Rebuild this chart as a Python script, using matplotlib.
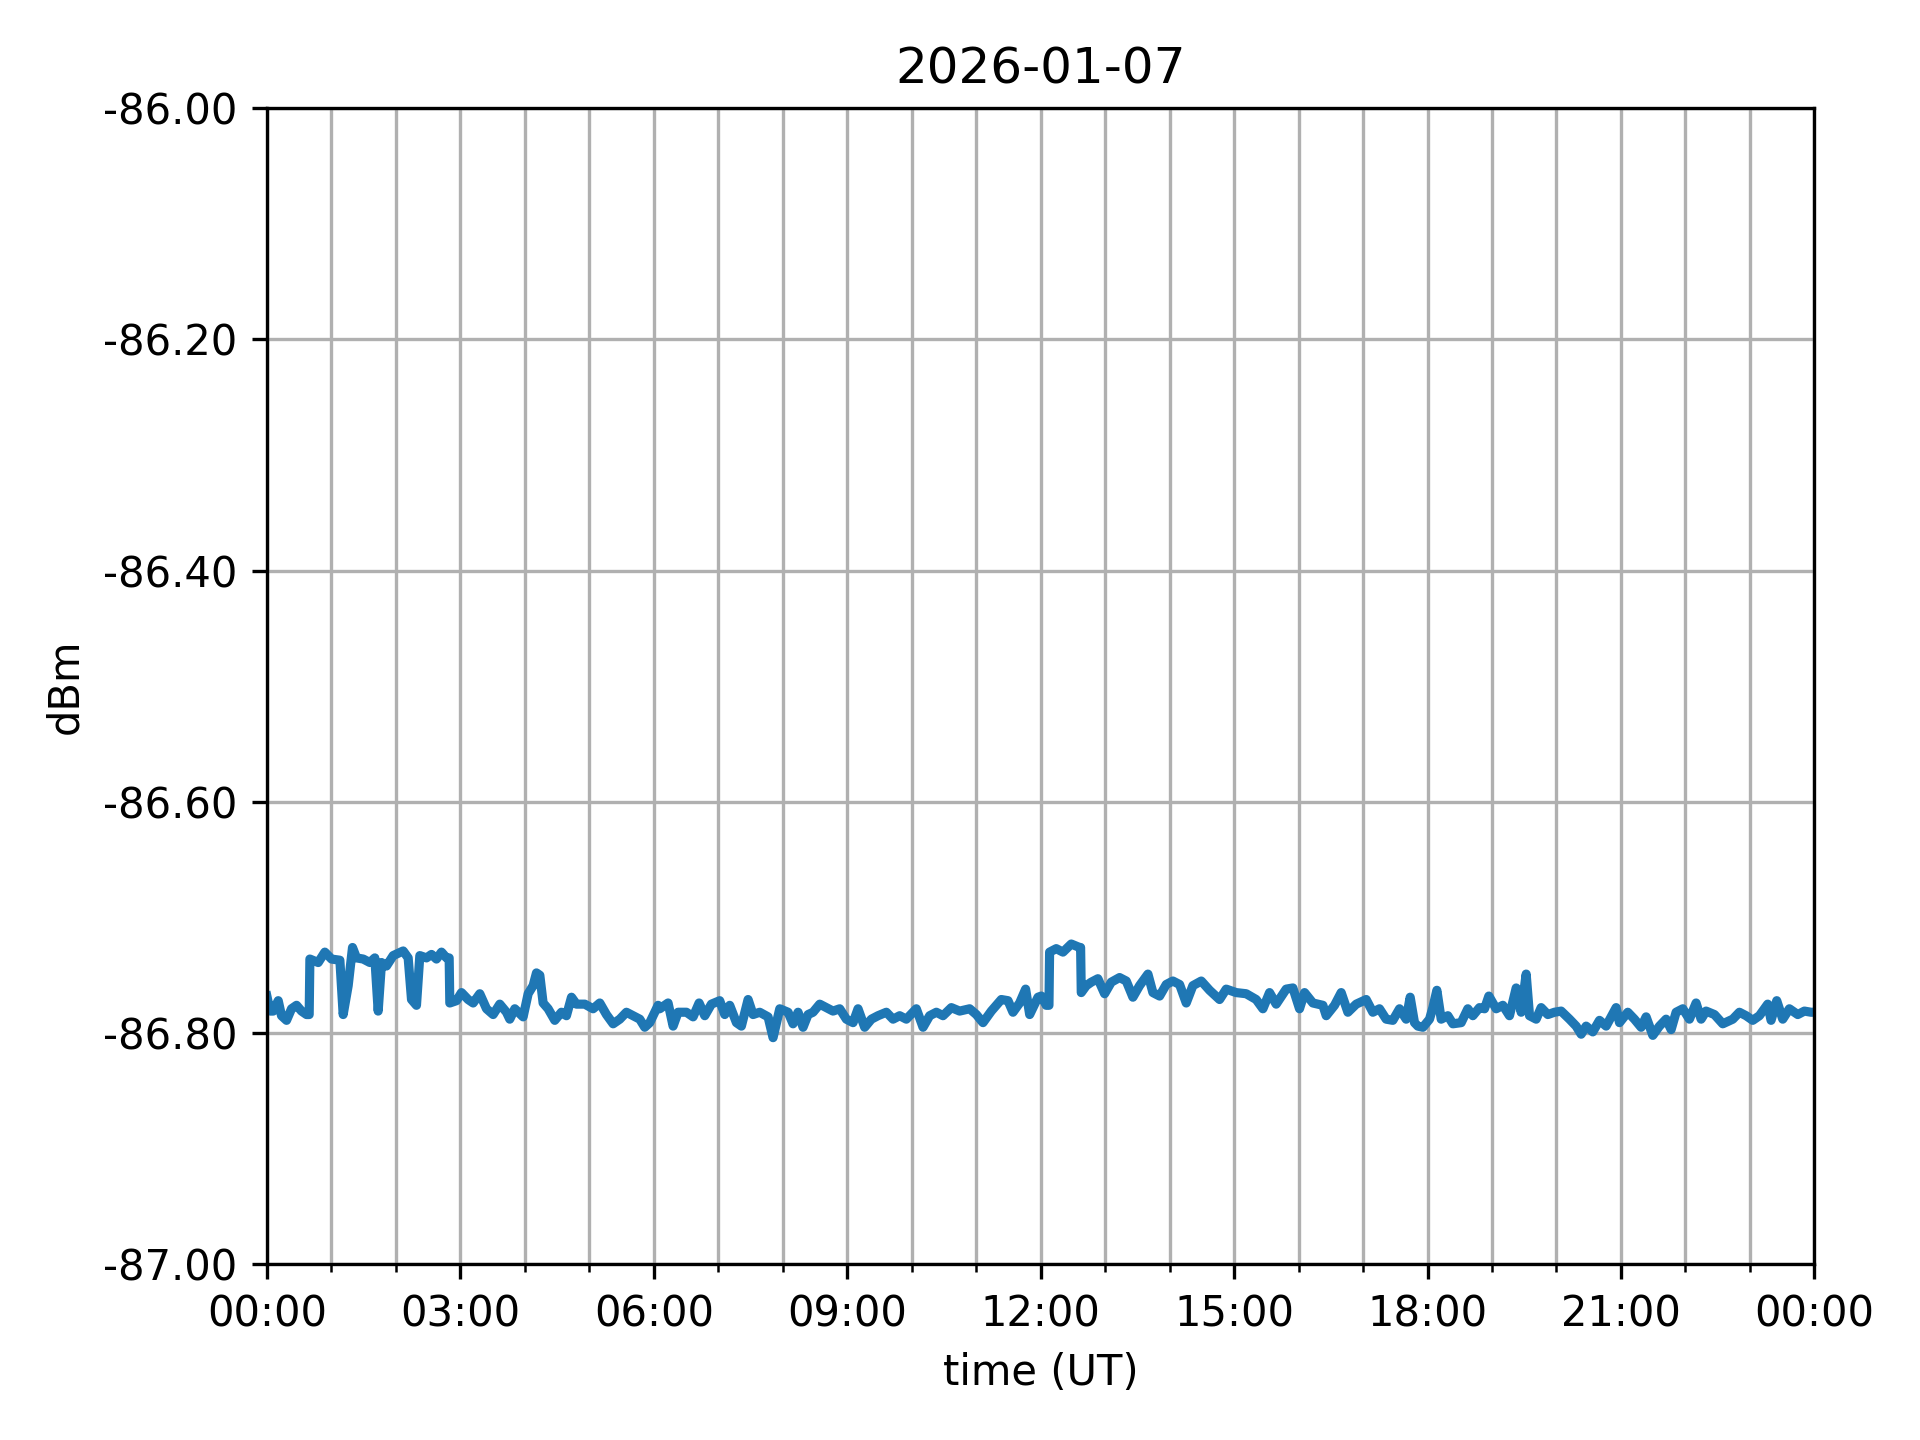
import numpy as np
import pandas as pd
import matplotlib
matplotlib.use('Agg')
import matplotlib.pyplot as plt
import matplotlib.dates as mdates
from matplotlib.ticker import FormatStrFormatter

day = '2026-01-07'

# hours since 00:00 UT
hours = [
    0.000, 0.050, 0.098, 0.176, 0.227, 0.305, 0.382, 0.460, 0.537, 0.615,
    0.656, 0.667, 0.796, 0.899, 1.003, 1.132, 1.183, 1.261, 1.328, 1.390,
    1.494, 1.597, 1.674, 1.726, 1.778, 1.855, 1.959, 2.114, 2.191, 2.243,
    2.320, 2.372, 2.475, 2.553, 2.630, 2.708, 2.786, 2.827, 2.837, 2.941,
    3.018, 3.121, 3.199, 3.302, 3.406, 3.509, 3.612, 3.716, 3.767, 3.845,
    3.974, 4.052, 4.129, 4.181, 4.233, 4.284, 4.362, 4.465, 4.568, 4.646,
    4.724, 4.801, 4.930, 5.059, 5.163, 5.266, 5.370, 5.473, 5.576, 5.680,
    5.783, 5.860, 5.938, 6.067,
    6.093, 6.222, 6.300, 6.377, 6.507, 6.610, 6.703, 6.791, 6.894, 7.023,
    7.101, 7.178, 7.282, 7.359, 7.463, 7.540, 7.643, 7.773, 7.850, 7.954,
    8.083, 8.160, 8.238, 8.315, 8.393, 8.470, 8.574, 8.677, 8.780, 8.884,
    8.987, 9.091, 9.168, 9.271, 9.375, 9.478, 9.607, 9.711, 9.814, 9.917,
    10.072, 10.176, 10.279, 10.383, 10.486, 10.615, 10.744, 10.899, 11.003, 11.106,
    11.235, 11.390, 11.494, 11.571, 11.674, 11.767, 11.830, 11.959,
    12.010, 12.087, 12.129, 12.139, 12.242, 12.346, 12.475, 12.604, 12.620, 12.630,
    12.708, 12.785, 12.888, 12.992, 13.095, 13.224, 13.328, 13.431, 13.534, 13.664,
    13.741, 13.845, 13.948, 14.051, 14.155, 14.258, 14.361, 14.491, 14.620, 14.775,
    14.878, 15.033, 15.188, 15.343, 15.447, 15.550, 15.653, 15.808, 15.912, 16.015,
    16.093, 16.222, 16.377, 16.429, 16.558, 16.661, 16.765, 16.894, 17.049, 17.152,
    17.255, 17.359, 17.462, 17.566, 17.669, 17.731, 17.798, 17.850,
    17.928, 18.031, 18.083, 18.145, 18.212, 18.315, 18.393, 18.522, 18.625, 18.703,
    18.806, 18.884, 18.951, 19.065, 19.168, 19.271, 19.375, 19.452, 19.530, 19.582,
    19.685, 19.762, 19.866, 19.969, 20.072, 20.202, 20.305, 20.383, 20.460, 20.563,
    20.667, 20.770, 20.925, 20.977, 21.106, 21.209, 21.313, 21.390, 21.494, 21.597,
    21.700, 21.778, 21.855, 21.959, 22.062, 22.165, 22.243, 22.320, 22.450, 22.579,
    22.734, 22.837, 22.941, 23.044, 23.147, 23.276, 23.328, 23.416, 23.509, 23.612,
    23.742, 23.845, 23.948, 24.000,
]

dbm = [
    -86.768, -86.781, -86.781, -86.772, -86.785, -86.789, -86.779, -86.776, -86.781, -86.784,
    -86.784, -86.736, -86.739, -86.730, -86.736, -86.737, -86.784, -86.759, -86.726, -86.735,
    -86.736, -86.739, -86.735, -86.781, -86.739, -86.742, -86.733, -86.729, -86.735, -86.771,
    -86.776, -86.733, -86.735, -86.732, -86.736, -86.730, -86.735, -86.735, -86.774, -86.772,
    -86.765, -86.771, -86.774, -86.766, -86.779, -86.784, -86.775, -86.782, -86.788, -86.779,
    -86.786, -86.766, -86.759, -86.748, -86.750, -86.774, -86.779, -86.789, -86.782, -86.785,
    -86.769, -86.775, -86.775, -86.779, -86.774, -86.784, -86.792, -86.788, -86.782, -86.785,
    -86.788, -86.795, -86.791, -86.776,
    -86.779, -86.774, -86.794, -86.782, -86.782, -86.786, -86.774, -86.785, -86.775, -86.772,
    -86.784, -86.776, -86.791, -86.794, -86.771, -86.784, -86.782, -86.786, -86.804, -86.779,
    -86.782, -86.792, -86.782, -86.795, -86.784, -86.782, -86.775, -86.778, -86.781, -86.779,
    -86.788, -86.791, -86.779, -86.795, -86.788, -86.785, -86.782, -86.788, -86.785, -86.788,
    -86.779, -86.795, -86.785, -86.782, -86.785, -86.778, -86.781, -86.779, -86.784, -86.791,
    -86.781, -86.771, -86.772, -86.782, -86.774, -86.762, -86.784, -86.769,
    -86.768, -86.776, -86.776, -86.730, -86.727, -86.730, -86.723, -86.726, -86.726, -86.765,
    -86.759, -86.756, -86.753, -86.766, -86.756, -86.752, -86.755, -86.769, -86.759, -86.749,
    -86.765, -86.768, -86.758, -86.755, -86.758, -86.774, -86.759, -86.755, -86.763, -86.771,
    -86.762, -86.765, -86.766, -86.771, -86.779, -86.765, -86.775, -86.762, -86.761, -86.779,
    -86.765, -86.774, -86.776, -86.785, -86.776, -86.765, -86.782, -86.775, -86.771, -86.782,
    -86.779, -86.788, -86.789, -86.779, -86.788, -86.769, -86.791, -86.794,
    -86.795, -86.788, -86.778, -86.763, -86.788, -86.785, -86.792, -86.791, -86.779, -86.785,
    -86.778, -86.779, -86.768, -86.779, -86.776, -86.785, -86.761, -86.782, -86.749, -86.785,
    -86.788, -86.778, -86.784, -86.782, -86.781, -86.788, -86.794, -86.801, -86.794, -86.799,
    -86.789, -86.794, -86.778, -86.791, -86.782, -86.788, -86.795, -86.786, -86.802, -86.794,
    -86.788, -86.797, -86.782, -86.779, -86.788, -86.774, -86.788, -86.781, -86.784, -86.792,
    -86.788, -86.782, -86.785, -86.789, -86.785, -86.775, -86.789, -86.772, -86.788, -86.779,
    -86.784, -86.781, -86.782, -86.782,
]

t0 = pd.Timestamp(day)
times = t0 + pd.to_timedelta(np.array(hours), unit='h')

fig, ax = plt.subplots(figsize=(6.4, 4.8), dpi=300)
fig.subplots_adjust(left=0.139, right=0.945, top=0.925, bottom=0.122)

ax.plot(times, dbm, color='#1f77b4', linewidth=2.2)

ax.set_xlim(t0, t0 + pd.Timedelta(days=1))
ax.set_ylim(-87.0, -86.0)
ax.set_yticks(np.arange(-87.0, -85.99, 0.2))
ax.yaxis.set_major_formatter(FormatStrFormatter('%.2f'))

ax.xaxis.set_major_locator(mdates.HourLocator(byhour=range(0, 24, 3)))
ax.xaxis.set_minor_locator(mdates.HourLocator())
ax.xaxis.set_major_formatter(mdates.DateFormatter('%H:%M'))

# grid: every hour on x, major ticks on y
ax.grid(True, which='major', axis='both', color='#b0b0b0', linewidth=0.8)
ax.grid(True, which='minor', axis='x', color='#b0b0b0', linewidth=0.8)

ax.set_title(day)
ax.set_xlabel('time (UT)')
ax.set_ylabel('dBm')

fig.savefig('out.png', dpi=300)
